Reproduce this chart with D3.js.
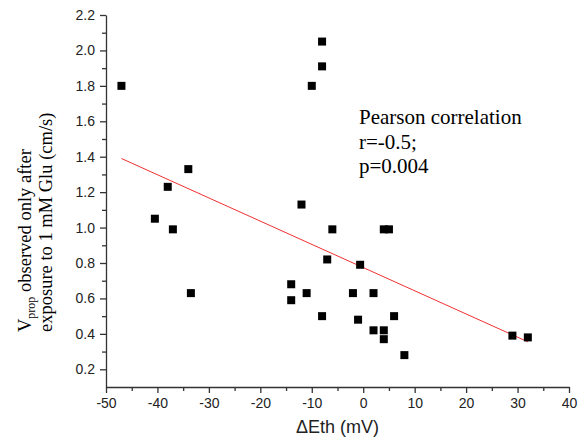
<!DOCTYPE html>
<html lang="en">
  <head>
    <meta charset="UTF-8" />
    <script src="https://cdn.jsdelivr.net/npm/d3@7"></script>
    <style>
      * {
        margin: 0;
        padding: 0;
      }
      body {
        background: #fff;
      }
      #container svg {
        display: block;
      }
      .tick text {
        font-family: 'Liberation Sans', Arial, sans-serif;
      }
    </style>
    <title>Vprop vs dEth</title>
  </head>
  <body>
    <div id="container"></div>
  </body>
  <script>
    // data
    const deltaEth = [
      -47, -8, -8, -10, -34, -38, -40.5, -37, -33.5, -12, -6, 4, 5, -7, -0.6,
      -14, -14, -11, -2, 2, -8, -1, 6, 2, 4, 4, 8, 29, 32,
    ];
    const vprop = [
      1.8, 2.05, 1.91, 1.8, 1.33, 1.23, 1.05, 0.99, 0.63, 1.13, 0.99, 0.99,
      0.99, 0.82, 0.79, 0.68, 0.59, 0.63, 0.63, 0.63, 0.5, 0.48, 0.5, 0.42,
      0.42, 0.37, 0.28, 0.39, 0.38,
    ];
    // linear fit line ends
    const fitX = [-47, 32];
    const fitY = [1.39, 0.355];

    const xTicks = [-50, -40, -30, -20, -10, 0, 10, 20, 30, 40];
    const yTicks = [0.2, 0.4, 0.6, 0.8, 1.0, 1.2, 1.4, 1.6, 1.8, 2.0, 2.2];
    const statsLines = ['Pearson correlation', 'r=-0.5;', 'p=0.004'];

    const width = 585;
    const height = 447;
    const margin = { top: 15, right: 16, bottom: 60, left: 106 };

    const svg = d3
      .select('#container')
      .append('svg')
      .attr('width', width)
      .attr('height', height);

    const x = d3
      .scaleLinear()
      .domain([-50, 40])
      .range([margin.left, width - margin.right]);
    const y = d3
      .scaleLinear()
      .domain([0.1, 2.2])
      .range([height - margin.bottom, margin.top]);

    // minor ticks
    svg
      .append('g')
      .attr('transform', `translate(0,${y(0.1)})`)
      .call(
        d3.axisBottom(x).tickValues(d3.range(-45, 40, 10)).tickSize(4).tickFormat('')
      )
      .call((g) => g.select('.domain').remove());
    svg
      .append('g')
      .attr('transform', `translate(${x(-50)},0)`)
      .call(
        d3
          .axisLeft(y)
          .tickValues(d3.range(0.3, 2.2, 0.2))
          .tickSize(4)
          .tickFormat('')
      )
      .call((g) => g.select('.domain').remove());

    //xAxis
    svg
      .append('g')
      .attr('transform', `translate(0,${y(0.1)})`)
      .call(
        d3
          .axisBottom(x)
          .tickValues(xTicks)
          .tickSize(6)
          .tickSizeOuter(0)
          .tickPadding(5)
          .tickFormat((d) => String(d))
      )
      .call((g) => g.selectAll('text').attr('font-size', 14).attr('fill', '#222'));

    //yAxis
    svg
      .append('g')
      .attr('transform', `translate(${x(-50)},0)`)
      .call(
        d3
          .axisLeft(y)
          .tickValues(yTicks)
          .tickSize(6)
          .tickSizeOuter(0)
          .tickPadding(5)
          .tickFormat((d) => d.toFixed(1))
      )
      .call((g) => g.selectAll('text').attr('font-size', 14).attr('fill', '#222'));

    svg.selectAll('.domain, .tick line').attr('stroke', '#333').attr('stroke-width', 1.3);

    // fit line
    svg
      .append('line')
      .attr('x1', x(fitX[0]))
      .attr('y1', y(fitY[0]))
      .attr('x2', x(fitX[1]))
      .attr('y2', y(fitY[1]))
      .attr('stroke', '#f03030')
      .attr('stroke-width', 1);

    // points
    const sq = 8;
    svg
      .append('g')
      .selectAll('rect')
      .data(deltaEth)
      .join('rect')
      .attr('x', (d) => x(d) - sq / 2)
      .attr('y', (d, i) => y(vprop[i]) - sq / 2)
      .attr('width', sq)
      .attr('height', sq)
      .attr('fill', '#000');

    // stats text
    svg
      .append('g')
      .selectAll('text')
      .data(statsLines)
      .join('text')
      .attr('x', 359)
      .attr('y', (d, i) => 124 + i * 24.5)
      .attr('font-family', "'Liberation Serif', 'Times New Roman', serif")
      .attr('font-size', 21)
      .attr('fill', '#000')
      .text((d) => d);

    // x title
    svg
      .append('text')
      .text('ΔEth (mV)')
      .attr('x', (x(-50) + x(40)) / 2)
      .attr('y', 433)
      .attr('text-anchor', 'middle')
      .attr('font-family', "'Liberation Sans', Arial, sans-serif")
      .attr('font-size', 18)
      .attr('fill', '#222');

    // y title (two lines)
    const serif = "'Liberation Serif', 'Times New Roman', serif";
    const yt1 = svg
      .append('text')
      .attr('transform', 'translate(31,332) rotate(-90)')
      .attr('font-family', serif)
      .attr('font-size', 18.5)
      .attr('fill', '#000');
    yt1.append('tspan').text('V');
    yt1.append('tspan').attr('font-size', 12).attr('dy', 4).text('prop');
    yt1.append('tspan').attr('dy', -4).text(' observed only after');

    svg
      .append('text')
      .attr('transform', 'translate(52,332) rotate(-90)')
      .attr('font-family', serif)
      .attr('font-size', 18.5)
      .attr('fill', '#000')
      .text('exposure to 1 mM Glu (cm/s)');
  </script>
</html>
